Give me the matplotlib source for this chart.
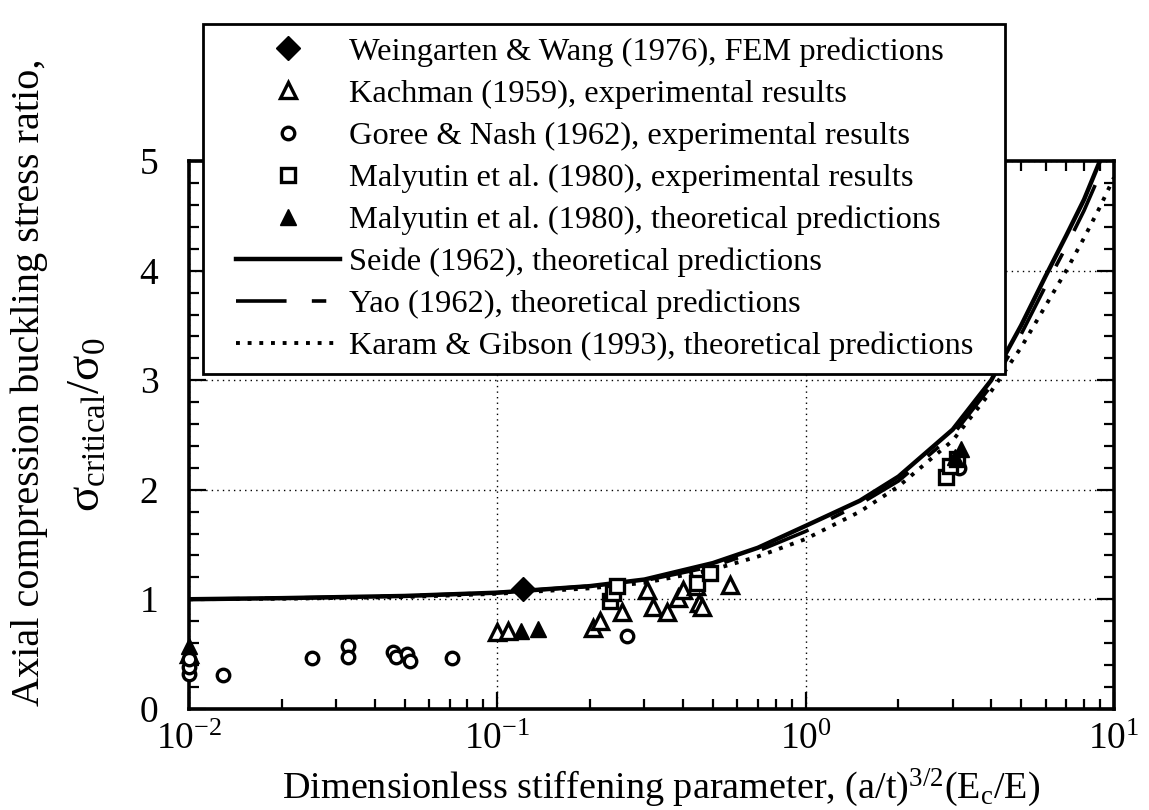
import numpy as np
import matplotlib
matplotlib.use('Agg')
import matplotlib.pyplot as plt
from matplotlib.lines import Line2D
from matplotlib.legend_handler import HandlerLine2D
from matplotlib.ticker import LogLocator, MultipleLocator, FixedLocator

plt.rcParams['font.family'] = ['Liberation Serif', 'DejaVu Serif']
plt.rcParams['mathtext.fontset'] = 'custom'
plt.rcParams['mathtext.rm'] = 'Liberation Serif'
plt.rcParams['mathtext.it'] = 'Liberation Serif:italic'
plt.rcParams['mathtext.bf'] = 'Liberation Serif:bold'

# theoretical curves
curve_x = [0.01, 0.02, 0.05, 0.1, 0.2, 0.3, 0.5, 0.7, 1.0, 1.5, 2.0, 3.0, 4.0, 5.0, 6.0, 7.0, 8.0, 9.0, 10.0]
seide_y = [1.00, 1.01, 1.03, 1.06, 1.12, 1.18, 1.33, 1.47, 1.67, 1.90, 2.12, 2.55, 3.00, 3.50, 3.95, 4.32, 4.65, 5.00, 5.30]
yao_y = [1.00, 1.01, 1.03, 1.06, 1.12, 1.17, 1.30, 1.44, 1.62, 1.87, 2.08, 2.50, 2.95, 3.42, 3.86, 4.22, 4.55, 4.88, 5.20]
karam_y = [1.00, 1.005, 1.02, 1.05, 1.10, 1.15, 1.27, 1.39, 1.55, 1.80, 2.03, 2.45, 2.90, 3.30, 3.68, 4.00, 4.30, 4.58, 4.85]

# data points
weingarten_x = [0.121]
weingarten_y = [1.09]

kachman_x = [0.01, 0.100, 0.108, 0.205, 0.215, 0.254, 0.305, 0.319, 0.354, 0.385, 0.40, 0.44, 0.45, 0.46, 0.57, 3.05]
kachman_y = [0.50, 0.70, 0.71, 0.74, 0.80, 0.88, 1.08, 0.93, 0.88, 1.01, 1.08, 1.12, 0.97, 0.93, 1.13, 2.25]

goree_x = [0.01, 0.01, 0.01, 0.0129, 0.025, 0.0328, 0.0328, 0.046, 0.047, 0.051, 0.052, 0.0713, 0.263, 3.15]
goree_y = [0.32, 0.38, 0.45, 0.31, 0.46, 0.57, 0.47, 0.52, 0.47, 0.50, 0.44, 0.465, 0.66, 2.20]

malyutin_exp_x = [0.232, 0.238, 0.245, 0.443, 0.49, 2.85, 2.95, 3.10]
malyutin_exp_y = [0.98, 1.06, 1.12, 1.15, 1.24, 2.12, 2.22, 2.28]

malyutin_th_x = [0.01, 0.119, 0.135, 3.05, 3.20]
malyutin_th_y = [0.57, 0.71, 0.73, 2.30, 2.37]

fig = plt.figure(figsize=(11.49, 8.10), dpi=100)
ax = fig.add_axes([0.1645, 0.125, 0.805, 0.676])

mk = dict(linestyle='none', color='black', clip_on=False, zorder=5)
h1, = ax.plot(weingarten_x, weingarten_y, marker='D', markersize=12, markerfacecolor='black',
              label='Weingarten & Wang (1976), FEM predictions', **mk)
h2, = ax.plot(kachman_x, kachman_y, marker='^', markersize=11, markerfacecolor='white', markeredgewidth=2.4,
              label='Kachman (1959), experimental results', **mk)
h3, = ax.plot(goree_x, goree_y, marker='o', markersize=9, markerfacecolor='white', markeredgewidth=2.4,
              label='Goree & Nash (1962), experimental results', **mk)
h4, = ax.plot(malyutin_exp_x, malyutin_exp_y, marker='s', markersize=10, markerfacecolor='white', markeredgewidth=2.4,
              label='Malyutin et al. (1980), experimental results', **mk)
h5, = ax.plot(malyutin_th_x, malyutin_th_y, marker='^', markersize=11, markerfacecolor='black',
              label='Malyutin et al. (1980), theoretical predictions', **mk)

h6, = ax.plot(curve_x, seide_y, color='black', lw=3.2, zorder=4,
              label='Seide (1962), theoretical predictions')
h7, = ax.plot(curve_x, yao_y, color='black', lw=2.6, dashes=[14, 7, 4, 7], zorder=4,
              label='Yao (1962), theoretical predictions')
h8, = ax.plot(curve_x, karam_y, color='black', lw=2.8, dashes=[1.0, 2.0], zorder=4,
              label='Karam & Gibson (1993), theoretical predictions')

ax.set_xscale('log')
ax.set_xlim(0.01, 10)
ax.set_ylim(0, 5)

ax.xaxis.set_major_locator(FixedLocator([0.01, 0.1, 1, 10]))
ax.set_xticklabels([r'$10^{-2}$', r'$10^{-1}$', r'$10^{0}$', r'$10^{1}$'])
ax.xaxis.set_minor_locator(LogLocator(base=10, subs=np.arange(2, 10), numticks=20))
ax.xaxis.set_minor_formatter(plt.NullFormatter())
ax.yaxis.set_major_locator(MultipleLocator(1))
ax.yaxis.set_minor_locator(MultipleLocator(0.2))

ax.tick_params(which='both', direction='in', top=True, right=True, width=1.6, labelsize=27)
ax.tick_params(which='major', length=12)
ax.tick_params(which='minor', length=7)
ax.tick_params(axis='y', pad=22)
ax.tick_params(axis='x', pad=10)

for s in ax.spines.values():
    s.set_linewidth(2.6)

ax.grid(True, which='major', color='black', linestyle=(0, (1, 3)), linewidth=1.0)

ax.set_xlabel(r'Dimensionless stiffening parameter, (a/t)$^{3/2}$(E$_\mathrm{c}$/E)', fontsize=27.5)
ax.xaxis.set_label_coords(0.51, -0.105)

# two-line y label, each line placed on its own
fig.text(29 / 1149, 1 - 382 / 810, 'Axial compression buckling stress ratio,', rotation=90,
         ha='center', va='center', fontsize=29)
fig.text(88 / 1149, 1 - 425 / 810, r'σ$_\mathrm{critical}$/σ$_\mathrm{0}$', rotation=90,
         ha='center', va='center', fontsize=34)

leg = fig.legend(handles=[h1, h2, h3, h4, h5, h6, h7, h8],
                 loc='upper left',
                 bbox_to_anchor=(203 / 1149, 1 - 379 / 810, (1005 - 203) / 1149, (379 - 24) / 810),
                 mode='expand', fontsize=23.4, frameon=True, fancybox=False, framealpha=1,
                 edgecolor='black', handlelength=3.8, handletextpad=0.3, labelspacing=0.38,
                 borderpad=0.4, borderaxespad=0,
                 handler_map={Line2D: HandlerLine2D(xpad=0.6)})
leg.get_frame().set_linewidth(2)
leg.set_zorder(10)

fig.savefig('out.png', dpi=100)
